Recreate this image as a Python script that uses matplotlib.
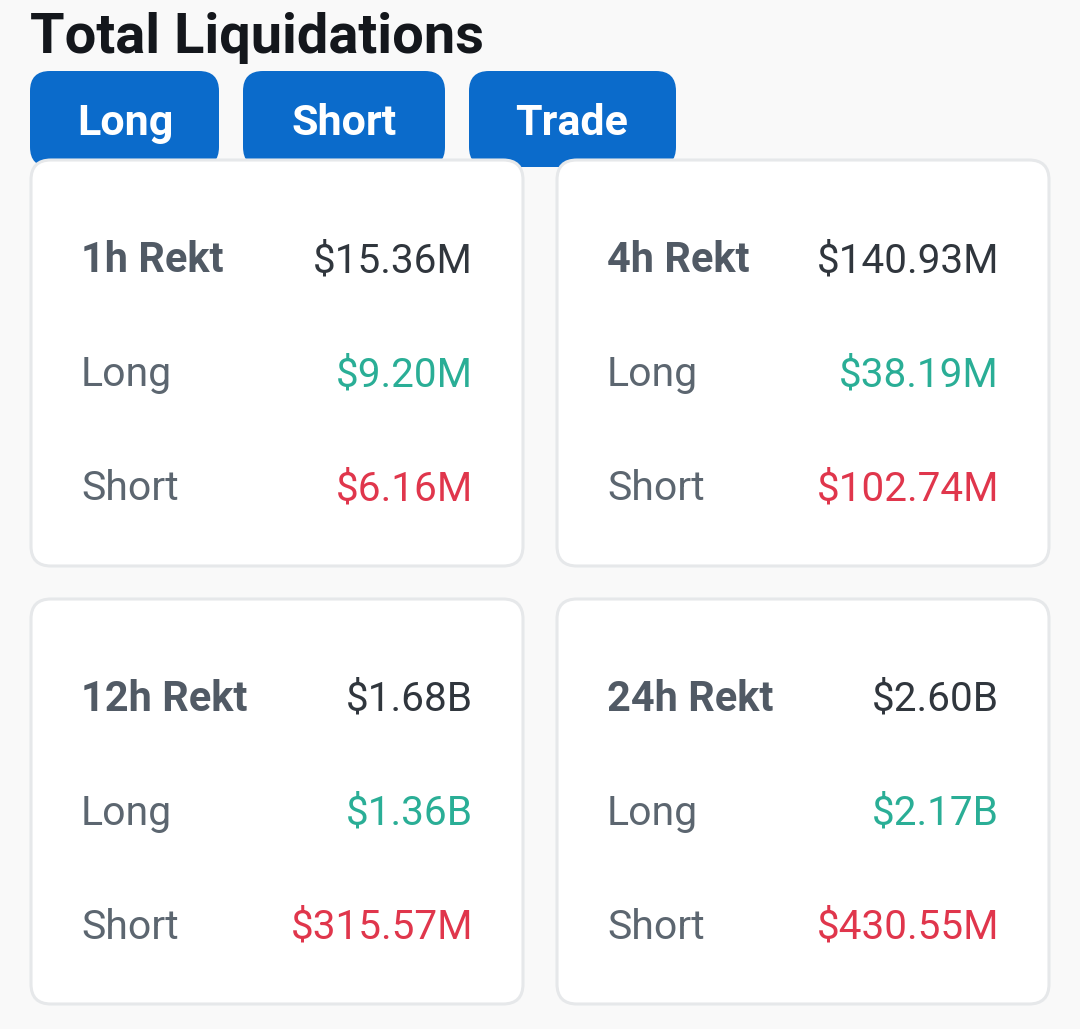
import matplotlib
matplotlib.use("Agg")
import matplotlib.pyplot as plt
from matplotlib.patches import FancyBboxPatch

W, H = 1080, 1029
title = "Total Liquidations"
buttons = ["Long", "Short", "Trade"]
periods = ["1h Rekt", "4h Rekt", "12h Rekt", "24h Rekt"]
totals = ["$15.36M", "$140.93M", "$1.68B", "$2.60B"]
longs = ["$9.20M", "$38.19M", "$1.36B", "$2.17B"]
shorts = ["$6.16M", "$102.74M", "$315.57M", "$430.55M"]

fig = plt.figure(figsize=(W/100, H/100), dpi=100, facecolor="#f9f9f9")
ax = fig.add_axes([0, 0, 1, 1])
ax.set_xlim(0, W); ax.set_ylim(H, 0); ax.axis("off")
F = "Roboto"
px = 72/100

def box(x0, y0, x1, y1, r, fc, ec="none", lw=0, z=1):
    ax.add_patch(FancyBboxPatch((x0+r, y0+r), x1-x0-2*r, y1-y0-2*r,
        boxstyle=f"round,pad={r},rounding_size={r}", fc=fc, ec=ec, lw=lw, zorder=z))

ax.text(30, 53, title, fontsize=56*px, fontweight="bold", family=F, color="#14171c", va="baseline", ha="left")
for (x0, x1, xc), b in zip([(30,219,125),(243,445,344),(469,676,572)], buttons):
    box(x0, 71, x1, 167, 20, "#0b6bcb", z=1)
    ax.text(xc, 135, b, fontsize=43*px, fontweight="bold", family=F, color="white", va="baseline", ha="center", zorder=2)

cells = [(31,523,160,566),(557,1049,160,566),(31,523,599,1004),(557,1049,599,1004)]
for i, (x0, x1, y0, y1) in enumerate(cells):
    box(x0, y0, x1, y1, 20, "white", "#e6e8ea", 2.2, z=3)
    lx = x0+50; rx = x1-50
    ya, yb, yc = y0+112, y0+226, y0+340
    ax.text(lx, ya, periods[i], fontsize=41.5*px, fontweight="bold", family=F, color="#515a65", va="baseline", ha="left", zorder=4)
    ax.text(rx, ya, totals[i], fontsize=40.5*px, family=F, color="#30363d", va="baseline", ha="right", zorder=4)
    ax.text(lx, yb, "Long", fontsize=41*px, family=F, color="#5c6670", va="baseline", ha="left", zorder=4)
    ax.text(rx, yb, longs[i], fontsize=40.5*px, family=F, color="#2aae96", va="baseline", ha="right", zorder=4)
    ax.text(lx, yc, "Short", fontsize=41*px, family=F, color="#5c6670", va="baseline", ha="left", zorder=4)
    ax.text(rx, yc, shorts[i], fontsize=40.5*px, family=F, color="#e0364c", va="baseline", ha="right", zorder=4)
fig.savefig("out.png", dpi=100, facecolor=fig.get_facecolor())
